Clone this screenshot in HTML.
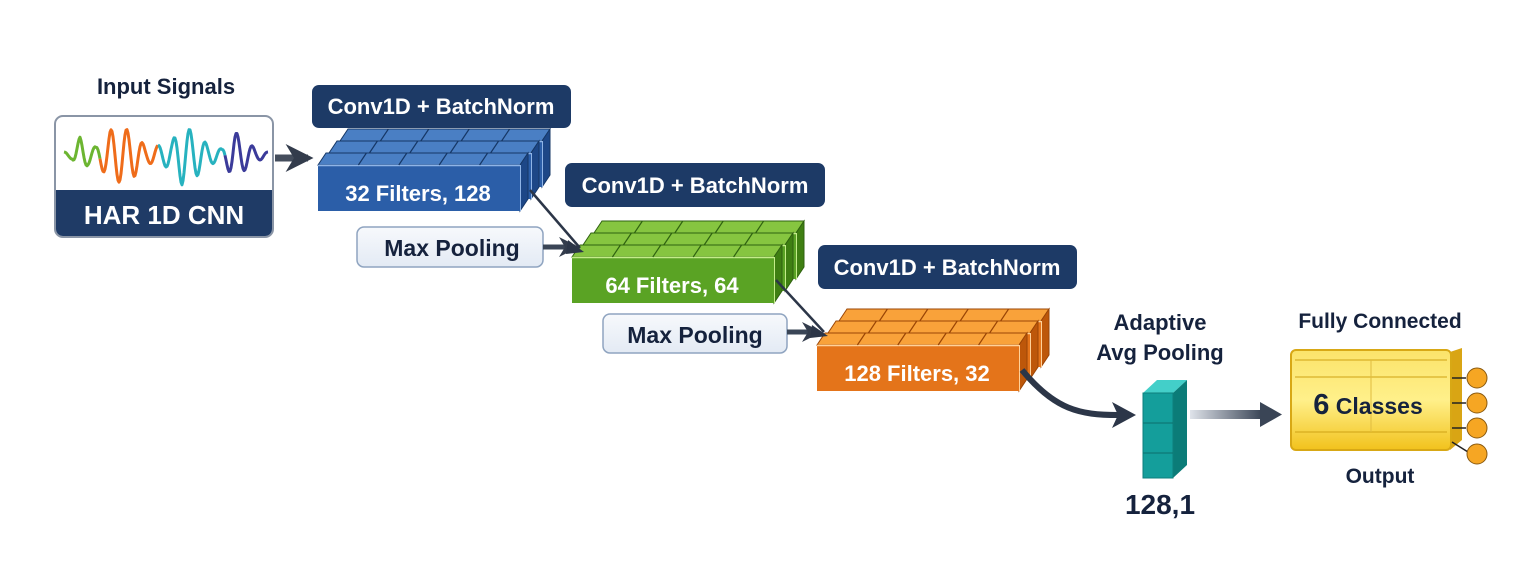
<!DOCTYPE html>
<html><head><meta charset="utf-8"><style>
body{margin:0;background:#fff}
svg{display:block}
text{font-family:"Liberation Sans",sans-serif;font-weight:bold}
</style></head><body>
<svg id="s" width="1536" height="577" viewBox="0 0 1536 577" xmlns="http://www.w3.org/2000/svg">
<defs>
<linearGradient id="gArr" x1="0" x2="1"><stop offset="0" stop-color="#dfe3ea"/><stop offset="1" stop-color="#3a4556"/></linearGradient>
<linearGradient id="gY" x1="0" y1="0" x2="0" y2="1"><stop offset="0" stop-color="#fbe36a"/><stop offset="0.5" stop-color="#fff08a"/><stop offset="1" stop-color="#f2c21c"/></linearGradient>
<linearGradient id="gMP" x1="0" y1="0" x2="0" y2="1"><stop offset="0" stop-color="#f7f9fc"/><stop offset="1" stop-color="#e3eaf4"/></linearGradient>
<marker id="ah" viewBox="0 0 10 10" refX="8" refY="5" markerWidth="4" markerHeight="4" orient="auto"><path d="M0,0 L10,5 L0,10 L3,5 z" fill="#333c4c"/></marker>
</defs>

<text x="166" y="94" font-size="22" fill="#15223d" text-anchor="middle">Input Signals</text>
<rect x="55" y="116" width="218" height="121" rx="8" fill="#fff" stroke="#8a95a6" stroke-width="2"/>
<path d="M56,190 H272 V229 a7,7 0 0 1 -7,7 H63 a7,7 0 0 1 -7,-7 z" fill="#1f3b66"/>
<text x="164" y="224" font-size="26" fill="#fff" text-anchor="middle">HAR 1D CNN</text>
<g id="wave"></g>

<line x1="275" y1="158" x2="308" y2="158" stroke="#444d5c" stroke-width="7" marker-end="url(#ah)"/>

<rect x="312" y="85" width="259" height="43" rx="7" fill="#1d3a66"/>
<text x="441" y="114" font-size="22" fill="#fff" text-anchor="middle">Conv1D + BatchNorm</text>
<rect x="565" y="163" width="260" height="44" rx="7" fill="#1d3a66"/>
<text x="695" y="193" font-size="22" fill="#fff" text-anchor="middle">Conv1D + BatchNorm</text>
<rect x="818" y="245" width="259" height="44" rx="7" fill="#1d3a66"/>
<text x="947" y="275" font-size="22" fill="#fff" text-anchor="middle">Conv1D + BatchNorm</text>

<rect x="357" y="227" width="186" height="40" rx="7" fill="url(#gMP)" stroke="#8fa4c0" stroke-width="1.5"/>
<text x="452" y="256" font-size="23" fill="#15223d" text-anchor="middle">Max Pooling</text>
<rect x="603" y="314" width="184" height="39" rx="7" fill="url(#gMP)" stroke="#8fa4c0" stroke-width="1.5"/>
<text x="695" y="343" font-size="23" fill="#15223d" text-anchor="middle">Max Pooling</text>

<g id="blocks"></g>

<line x1="543" y1="247" x2="575" y2="247" stroke="#3a4556" stroke-width="5" marker-end="url(#ah)"/>
<line x1="530" y1="190" x2="580" y2="248" stroke="#2c3648" stroke-width="2.5"/>
<path d="M568,240 L584,252 L566,254 z" fill="#2c3648"/>
<line x1="787" y1="332" x2="818" y2="332" stroke="#3a4556" stroke-width="5" marker-end="url(#ah)"/>
<line x1="776" y1="280" x2="824" y2="332" stroke="#2c3648" stroke-width="2.5"/>
<path d="M812,325 L828,336 L810,338 z" fill="#2c3648"/>

<path d="M1022,370 C1055,410 1080,415 1118,415" fill="none" stroke="#2c3648" stroke-width="6"/>
<path d="M1112,402 L1136,415 L1112,428 L1118,415 z" fill="#2c3648"/>

<polygon points="1143,393 1157,380 1187,380 1173,393" fill="#43cfc9"/>
<polygon points="1173,393 1187,380 1187,465 1173,478" fill="#0b7c78"/>
<rect x="1143" y="393" width="30" height="85" fill="#149e9b" stroke="#0e7f7c"/>
<line x1="1143" y1="423" x2="1173" y2="423" stroke="#0d6f6c"/><line x1="1143" y1="453" x2="1173" y2="453" stroke="#0d6f6c"/>
<text x="1160" y="330" font-size="22" fill="#15223d" text-anchor="middle">Adaptive</text>
<text x="1160" y="360" font-size="22" fill="#15223d" text-anchor="middle">Avg Pooling</text>
<text x="1160" y="514" font-size="28" fill="#15223d" text-anchor="middle">128,1</text>

<rect x="1190" y="410" width="72" height="9" fill="url(#gArr)"/>
<path d="M1260,402 L1282,414.5 L1260,427 z" fill="#3a4556"/>

<text x="1380" y="328" font-size="21" fill="#15223d" text-anchor="middle">Fully Connected</text>
<polygon points="1450,352 1462,348 1462,440 1450,450" fill="#d9a514"/>
<rect x="1291" y="350" width="160" height="100" rx="5" fill="url(#gY)" stroke="#d8a815" stroke-width="2"/>
<line x1="1295" y1="360" x2="1447" y2="360" stroke="#cfa214"/>
<line x1="1295" y1="377" x2="1447" y2="377" stroke="#cfa214"/>
<line x1="1295" y1="432" x2="1447" y2="432" stroke="#cfa214"/>
<line x1="1371" y1="360" x2="1371" y2="432" stroke="#e0bc40"/>
<text x="1368" y="414" font-size="23" fill="#15223d" text-anchor="middle"><tspan font-size="29">6</tspan> Classes</text>
<text x="1380" y="483" font-size="21" fill="#15223d" text-anchor="middle">Output</text>
<g stroke="#222" stroke-width="1.5"><line x1="1452" y1="378" x2="1466" y2="378"/><line x1="1452" y1="403" x2="1466" y2="403"/><line x1="1452" y1="428" x2="1466" y2="428"/><line x1="1452" y1="442" x2="1468" y2="452"/></g>
<g fill="#f6a623" stroke="#8a5a10" stroke-width="1"><circle cx="1477" cy="378" r="10"/><circle cx="1477" cy="403" r="10"/><circle cx="1477" cy="428" r="10"/><circle cx="1477" cy="454" r="10"/></g>
</svg>
<script>
(function(){
var ns='http://www.w3.org/2000/svg';
function mk(p,t,a){var e=document.createElementNS(ns,t);for(var k in a)e.setAttribute(k,a[k]);p.appendChild(e);return e;}
var g=document.getElementById('blocks');
function el(t,a){return mk(g,t,a);}
function slab(x,y,w,h,c){var dx=8,dy=12;
el('polygon',{points:[x,y,x+dx,y-dy,x+w+dx,y-dy,x+w,y].join(','),fill:c.top,stroke:c.line,'stroke-width':1});
el('polygon',{points:[x+w,y,x+w+dx,y-dy,x+w+dx,y+h-dy,x+w,y+h].join(','),fill:c.side,stroke:c.line,'stroke-width':1});
el('rect',{x:x,y:y,width:w,height:h,fill:c.front});
el('line',{x1:x,y1:y+0.5,x2:x+w,y2:y+0.5,stroke:c.hi,'stroke-width':1.5});
el('line',{x1:x+w+0.5,y1:y,x2:x+w+0.5,y2:y+h,stroke:c.hi,'stroke-width':1});
for(var i=1;i<5;i++){var px=x+w*i/5;el('line',{x1:px,y1:y,x2:px+dx,y2:y-dy,stroke:c.line,'stroke-width':1.2});}
}
function block(x,y,c,label,sz){
slab(x+22,y-24,202,46,c);slab(x+11,y-12,202,46,c);slab(x,y,202,46,c);
var t=el('text',{x:x+100,y:y+36,'font-size':sz,fill:'#fff','text-anchor':'middle'});t.textContent=label;}
block(318,165,{top:'#4a7fc4',side:'#1d4787',front:'#2b5ea8',line:'#163766',hi:'#8fb4e6'},'32 Filters, 128',22);
block(572,257,{top:'#86c540',side:'#3f7f12',front:'#5aa324',line:'#2f6210',hi:'#c4ec8a'},'64 Filters, 64',22);
block(817,345,{top:'#f9a23a',side:'#bd570a',front:'#e4741a',line:'#9a4506',hi:'#ffd199'},'128 Filters, 32',22);
var w=document.getElementById('wave');
var segs=[['#6cb531',64,100],['#ef6c1a',100,158],['#27b2bf',158,225],['#3b3b9a',225,268]];
function amp(x){var a=[[64,3],[72,4],[80,18],[88,10],[96,8],[110,25],[122,28],[134,22],[146,8],[160,10],[172,14],[182,30],[196,22],[208,10],[222,6],[234,24],[244,16],[256,6],[268,3]];
var best=3;for(var i=0;i<a.length-1;i++){if(x>=a[i][0]&&x<=a[i+1][0]){var t=(x-a[i][0])/(a[i+1][0]-a[i][0]);best=a[i][1]*(1-t)+a[i+1][1]*t;}}return best;}
segs.forEach(function(s){var pts=[];for(var x=s[1];x<=s[2];x+=1){var y=155-amp(x)*Math.sin((x-60)*0.4);pts.push(x+','+y.toFixed(1));}
mk(w,'polyline',{points:pts.join(' '),fill:'none',stroke:s[0],'stroke-width':3,'stroke-linejoin':'round'});});
})();
</script>
</body></html>
